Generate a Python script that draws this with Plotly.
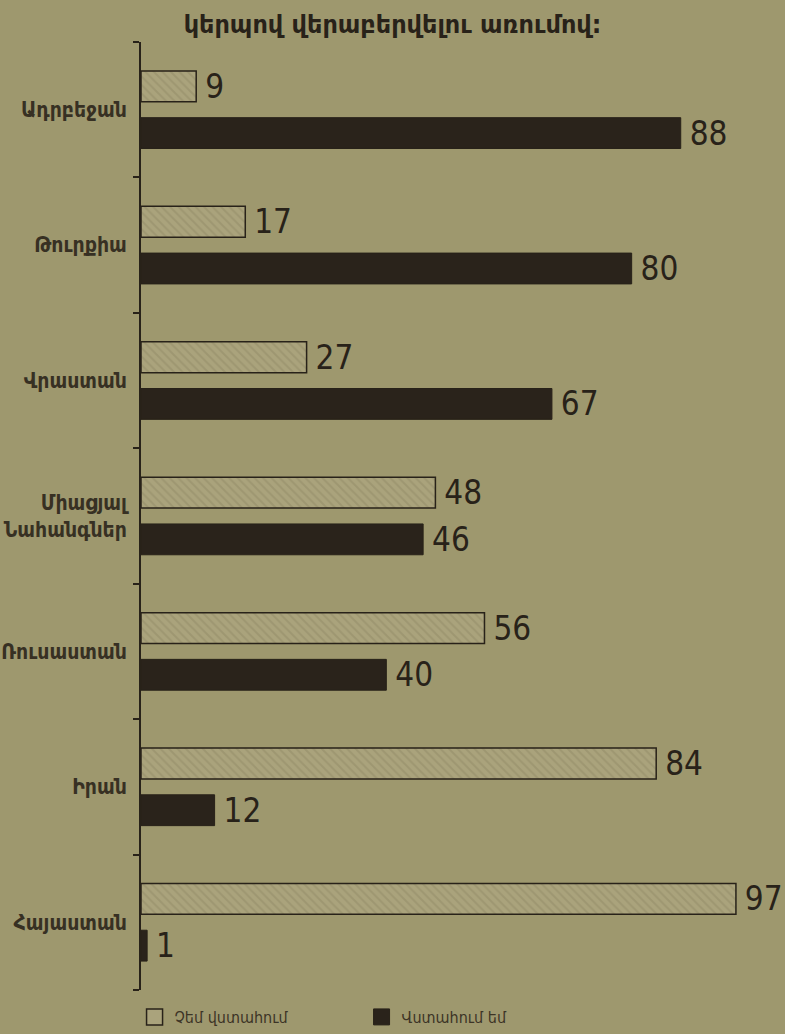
import plotly.graph_objects as go

categories = ["Ադրբեջան", "Թուրքիա", "Վրաստան", "Միացյալ<br>Նահանգներ", "Ռուսաստան", "Իրան", "Հայաստան"]
distrust = [9, 17, 27, 48, 56, 84, 97]
trust = [88, 80, 67, 46, 40, 12, 1]
series_names = ["Չեմ վստահում", "Վստահում եմ"]
title_text = "կերպով վերաբերվելու առումով:"

BG = "rgb(158,152,110)"
INK = "rgb(40,34,25)"
LIGHT = "rgb(170,163,124)"
DARK = "rgb(42,35,27)"
NUMFONT = "DejaVu Sans Condensed, DejaVu Sans"

fig = go.Figure()
fig.add_trace(go.Bar(
    y=categories, x=distrust, name=series_names[0], orientation="h", showlegend=False,
    marker=dict(color=LIGHT, line=dict(color=INK, width=1.5),
                pattern=dict(shape="\\", fgcolor="rgb(146,139,102)", size=6, solidity=0.35)),
    text=distrust, texttemplate="\u2009%{text}", textposition="outside", cliponaxis=False,
    constraintext="none",
    textfont=dict(family=NUMFONT, size=33, color=INK),
))
fig.add_trace(go.Bar(
    y=categories, x=trust, name=series_names[1], orientation="h", showlegend=False,
    marker=dict(color=DARK, line=dict(color=INK, width=1)),
    text=trust, texttemplate="\u2009%{text}", textposition="outside", cliponaxis=False,
    constraintext="none",
    textfont=dict(family=NUMFONT, size=33, color=INK),
))
# legend entries with square swatches
fig.add_trace(go.Scatter(x=[None], y=[None], mode="markers", name=series_names[0],
                         marker=dict(symbol="square", size=20, color=LIGHT, line=dict(color=INK, width=1.5))))
fig.add_trace(go.Scatter(x=[None], y=[None], mode="markers", name=series_names[1],
                         marker=dict(symbol="square", size=20, color=DARK, line=dict(color=INK, width=1))))

fig.update_layout(
    width=785, height=1034,
    paper_bgcolor=BG, plot_bgcolor=BG,
    margin=dict(l=141, r=0, t=42, b=41),
    barmode="group", bargap=0.31, bargroupgap=0.34,
    font=dict(family="DejaVu Sans", color=INK),
    title=dict(text="<b>" + title_text + "</b>", x=0.5, xanchor="center", y=0.976, yanchor="middle",
               font=dict(size=24, color=INK, family="DejaVu Sans")),
    legend=dict(orientation="h", x=-0.01, xanchor="left", y=-0.029, yanchor="middle",
                font=dict(size=16, color="rgb(60,52,38)", family="DejaVu Sans Condensed, DejaVu Sans"),
                bgcolor="rgba(0,0,0,0)", itemwidth=30, entrywidth=182, entrywidthmode="pixels",
                traceorder="normal"),
)
fig.update_xaxes(range=[0, 105], visible=False, showgrid=False, zeroline=False)
fig.update_yaxes(autorange="reversed", showgrid=False, zeroline=False,
                 showline=True, linecolor=INK, linewidth=2,
                 tickmode="array", tickvals=categories, ticktext=["<b>" + c.replace("<br>", "</b><br><b>") + "</b>" for c in categories],
                 ticks="outside", tickson="boundaries", ticklen=6, tickcolor=INK, tickwidth=1.5,
                 tickfont=dict(size=21, color="rgb(55,48,35)", family="DejaVu Sans Condensed, DejaVu Sans"),
                 ticklabelstandoff=8)

fig.write_html("out.html", config={"displayModeBar": False},
               post_script="document.body.style.margin='0';document.body.style.background='" + BG + "';")
